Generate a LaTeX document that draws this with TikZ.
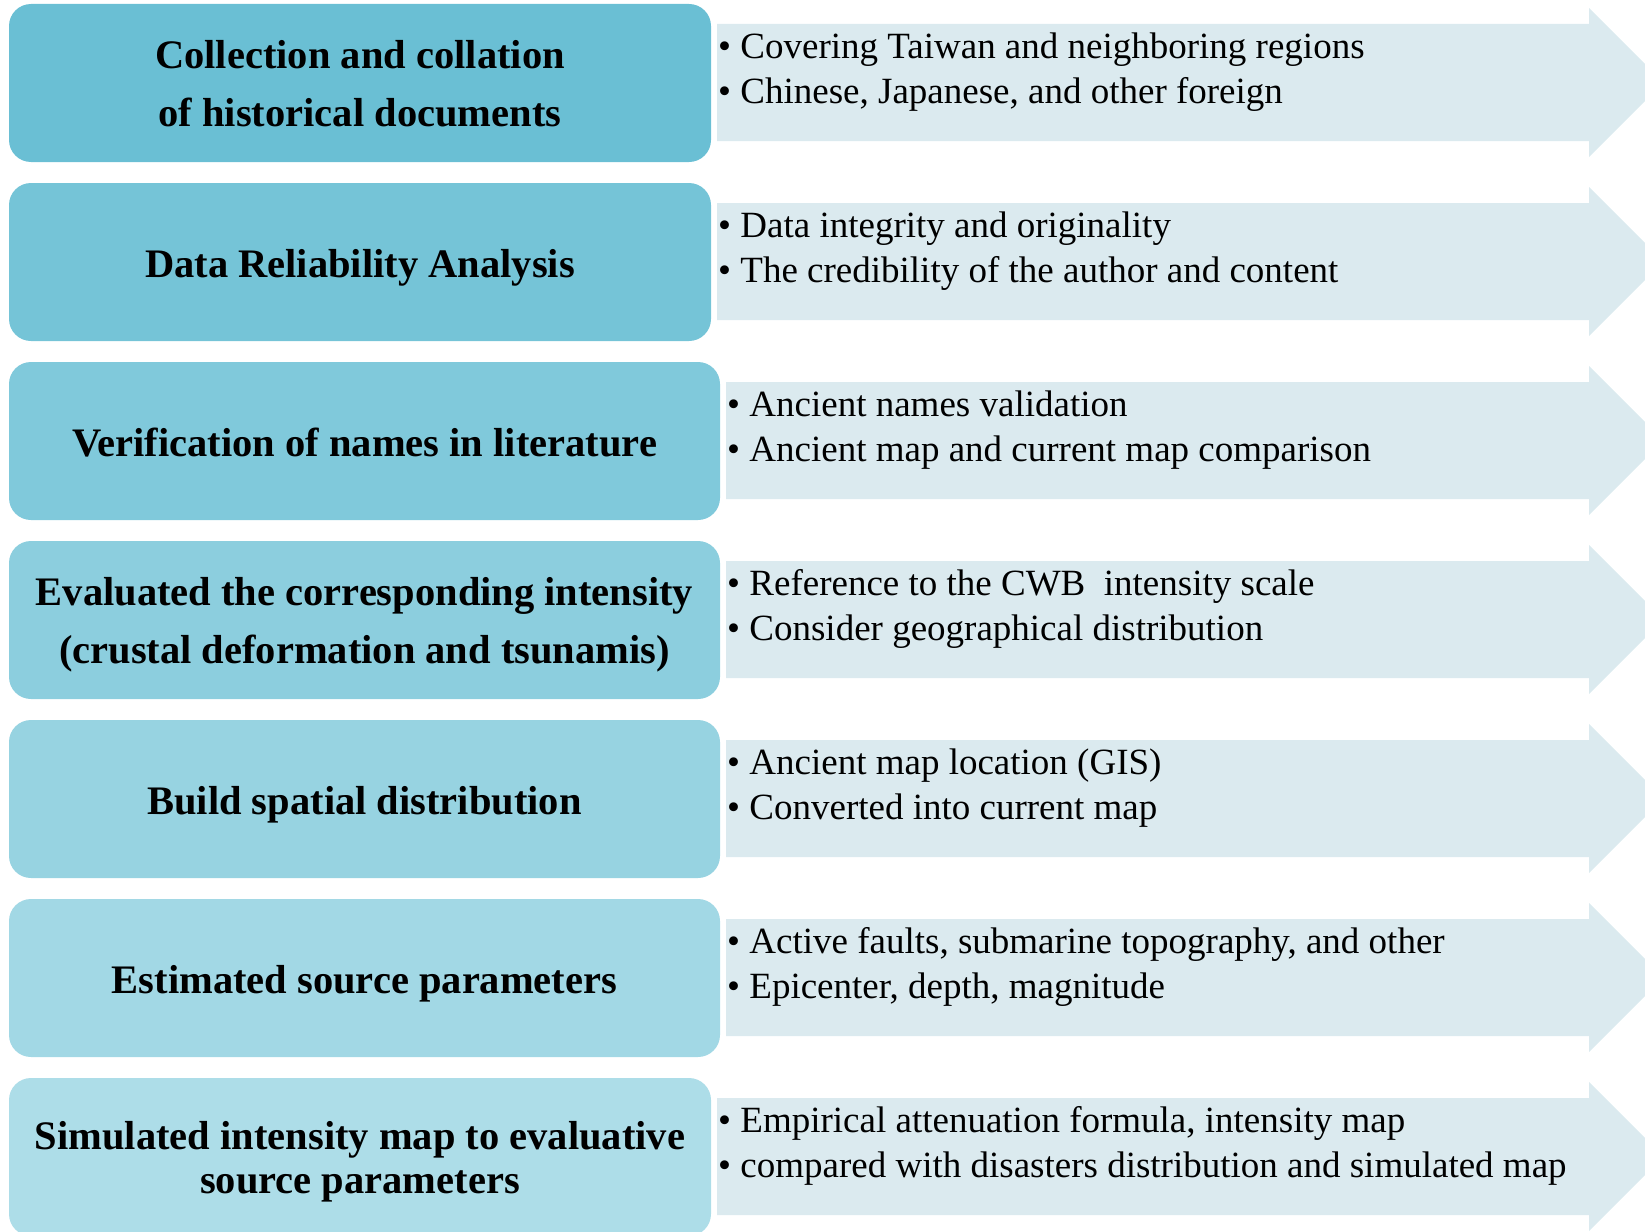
\documentclass[tikz,border=0pt]{standalone}
\usepackage{fontspec}
\setmainfont{Liberation Serif}
\definecolor{stepA}{RGB}{106,191,212}
\definecolor{stepB}{RGB}{117,196,215}
\definecolor{stepC}{RGB}{128,201,219}
\definecolor{stepD}{RGB}{140,206,222}
\definecolor{stepE}{RGB}{151,211,225}
\definecolor{stepF}{RGB}{162,216,229}
\definecolor{stepG}{RGB}{173,221,232}
\definecolor{arrowfill}{RGB}{219,234,239}
\begin{document}
\begin{tikzpicture}[x=1pt,y=-1pt,
  stagebox/.style={rounded corners=22pt, inner sep=0pt, minimum height=158pt},
  narrowbox/.style={stagebox, minimum width=702pt},
  widebox/.style={stagebox, minimum width=711pt},
  stagetext/.style={inner sep=0pt, align=center,
    font=\fontsize{40.5}{58}\selectfont\bfseries,
    execute at begin node={\rule{0pt}{1.0em}},
    execute at end node={\rule[-0.24em]{0pt}{0.24em}}},
  twolines/.style={stagetext, yshift=-5.5pt},
  tightlines/.style={twolines, font=\fontsize{40.5}{44}\selectfont\bfseries},
  bullets/.style={anchor=west, inner sep=0pt, align=left,
    font=\fontsize{37}{45}\selectfont,
    execute at begin node={\rule{0pt}{0.9em}},
    execute at end node={\rule[-0.24em]{0pt}{0.24em}}},
  band/.style={fill=arrowfill},
]
\useasboundingbox (0,0) rectangle (1645,1231);
\clip (0,0) rectangle (1645,1231);

% banded arrows behind the step boxes; #1 = left end, #2 = row top
\def\bandarrow#1#2{%
  \fill[band] (#1,#2+20) -- (1589,#2+20) -- (1589,#2+4) -- (1663.5,#2+78.5)
    -- (1589,#2+153) -- (1589,#2+137) -- (#1,#2+137) -- cycle;}
\bandarrow{717}{4}
\bandarrow{717}{183}
\bandarrow{726}{362}
\bandarrow{726}{541}
\bandarrow{726}{720}
\bandarrow{726}{899}
\bandarrow{717}{1078}

% step boxes
\node[narrowbox, fill=stepA] (s1) at (360,83) {};
\node[narrowbox, fill=stepB] (s2) at (360,262) {};
\node[widebox, fill=stepC] (s3) at (364.5,441) {};
\node[widebox, fill=stepD] (s4) at (364.5,620) {};
\node[widebox, fill=stepE] (s5) at (364.5,799) {};
\node[widebox, fill=stepF] (s6) at (364.5,978) {};
\node[narrowbox, fill=stepG] (s7) at (360,1157) {};

% step titles
\node[twolines] (t1) at (s1) {Collection and collation\\of historical documents};
\node[stagetext] (t2) at (s2) {Data Reliability Analysis};
\node[stagetext] (t3) at (s3) {Verification of names in literature};
\node[twolines] (t4) at (s4)
  {Evaluated the corresponding intensity\\(crustal deformation and tsunamis)};
\node[stagetext] (t5) at (s5) {Build spatial distribution};
\node[stagetext] (t6) at (s6) {Estimated source parameters};
\node[tightlines] (t7) at (s7) {Simulated intensity map to evaluative\\source parameters};

% bullet lists on the arrows
\node[bullets] (d1) at (718,72.3)
  {\textbullet\ Covering Taiwan and neighboring regions\\
   \textbullet\ Chinese, Japanese, and other foreign};
\node[bullets] (d2) at (718,251.3)
  {\textbullet\ Data integrity and originality\\
   \textbullet\ The credibility of the author and content};
\node[bullets] (d3) at (727,430.3)
  {\textbullet\ Ancient names validation\\
   \textbullet\ Ancient map and current map comparison};
\node[bullets] (d4) at (727,609.3)
  {\textbullet\ Reference to the CWB\ \ intensity scale\\
   \textbullet\ Consider geographical distribution};
\node[bullets] (d5) at (727,788.3)
  {\textbullet\ Ancient map location (GIS)\\
   \textbullet\ Converted into current map};
\node[bullets] (d6) at (727,967.3)
  {\textbullet\ Active faults, submarine topography, and other\\
   \textbullet\ Epicenter, depth, magnitude};
\node[bullets] (d7) at (718,1146.3)
  {\textbullet\ Empirical attenuation formula, intensity map\\
   \textbullet\ compared with disasters distribution and simulated map};
\end{tikzpicture}
\end{document}
